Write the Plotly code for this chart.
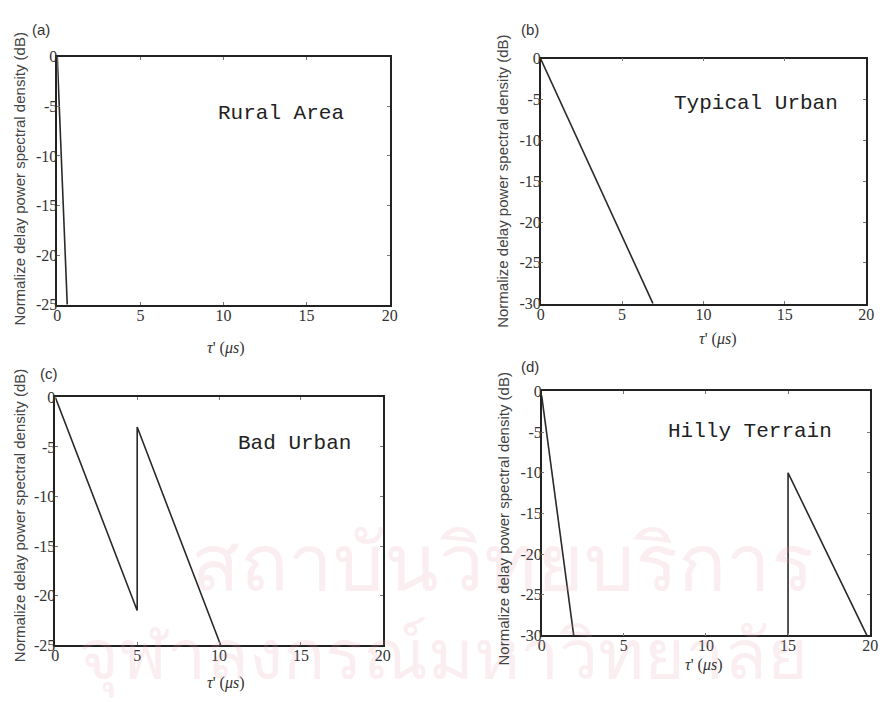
import plotly.graph_objects as go

# ---- data ----
rural_x = [0, 0.6]
rural_y = [0, -25]
tu_x = [0, 6.9]
tu_y = [0, -30]
bu_x = [0, 5, 5, 10.1]
bu_y = [0, -21.5, -3, -25]
ht_x = [0, 1.95, None, 15, 15, 19.8]
ht_y = [-0.5, -30, None, -30, -10, -30]

panel_labels = ["(a)", "(b)", "(c)", "(d)"]
panel_names = ["Rural Area", "Typical Urban", "Bad Urban", "Hilly Terrain"]
x_ticks = [0, 5, 10, 15, 20]
y_ticks_a = [0, -5, -10, -15, -20, -25]
y_ticks_b = [0, -5, -10, -15, -20, -25, -30]
y_title = "Normalize delay power spectral density (dB)"
x_title = "<i>τ</i>' (<i>μs</i>)"

W, H = 891, 702

# axes boxes in pixels: left, top, right, bottom
boxes = [(54, 50, 391, 304), (544, 52, 874, 303), (52, 399, 384, 653), (545, 393, 878, 643)]
y_ranges = [(-25, 0), (-30, 0), (-25, 0), (-30, 0)]
y_tickss = [y_ticks_a, y_ticks_b, y_ticks_a, y_ticks_b]

fig = go.Figure()
data = [(rural_x, rural_y), (tu_x, tu_y), (bu_x, bu_y), (ht_x, ht_y)]
for i, (xs, ys) in enumerate(data):
    sfx = "" if i == 0 else str(i + 1)
    fig.add_trace(go.Scatter(x=xs, y=ys, mode="lines", xaxis="x" + sfx, yaxis="y" + sfx,
                             line=dict(color="#2a2a2a", width=1.6), showlegend=False,
                             connectgaps=False))

layout = dict(width=W, height=H, margin=dict(l=0, r=0, t=0, b=0),
              paper_bgcolor="white", plot_bgcolor="rgba(0,0,0,0)", showlegend=False)
SERIF = "Liberation Serif"
tickfont = dict(family=SERIF, size=16, color="#333")
annotations = []


def ann(text, px, py, font, **kw):
    d = dict(text=text, x=px / W, y=1 - py / H, xref="paper", yref="paper", showarrow=False,
             xanchor="center", yanchor="middle", font=font)
    d.update(kw)
    return d


# faint watermark
wm_font = dict(family="Noto Sans", size=80, color="rgba(225,160,180,0.18)")
annotations.append(ann("สถาบันวิทยบริการ", 505, 565, wm_font))
annotations.append(ann("จุฬาลงกรณ์มหาวิทยาลัย", 445, 660, dict(wm_font, size=70)))

for i, (l, t, r, b) in enumerate(boxes):
    sfx = "" if i == 0 else str(i + 1)
    layout["xaxis" + sfx] = dict(domain=[l / W, r / W], range=[0, 20], anchor="y" + sfx,
                                 tickvals=x_ticks, ticktext=[str(v) for v in x_ticks],
                                 ticks="inside", ticklen=3, tickcolor="#777",
                                 showline=True, mirror="ticks", linecolor="#222", linewidth=1.5,
                                 showgrid=False, zeroline=False, tickfont=tickfont,
                                 ticklabelstandoff=-5)
    layout["yaxis" + sfx] = dict(domain=[1 - b / H, 1 - t / H], range=list(y_ranges[i]), anchor="x" + sfx,
                                 tickvals=y_tickss[i], ticktext=[str(v) for v in y_tickss[i]],
                                 ticks="inside", ticklen=3, tickcolor="#777",
                                 showline=True, mirror="ticks", linecolor="#222", linewidth=1.5,
                                 showgrid=False, zeroline=False, tickfont=tickfont,
                                 ticklabelstandoff=-5)

label_font = dict(family="Liberation Sans", size=15, color="#333")
for txt, (px, py) in zip(panel_labels, [(37, 22), (533, 22), (46, 375), (533, 367)]):
    annotations.append(ann(txt, px, py, label_font))

name_font = dict(family="Liberation Mono", size=21, color="#222")
for txt, (px, py) in zip(panel_names, [(281, 108), (762, 98), (294, 446), (756, 434)]):
    annotations.append(ann(txt, px, py, name_font))

ytitle_font = dict(family="Liberation Sans", size=15, color="#444")
for (px, py) in [(16, 175), (506, 178), (16, 520), (506, 524)]:
    annotations.append(ann(y_title, px, py, ytitle_font, textangle=-90))

xtitle_font = dict(family=SERIF, size=16, color="#333")
for (px, py) in [(225, 348), (724, 339), (225, 692), (710, 673)]:
    annotations.append(ann(x_title, px, py, xtitle_font))

layout["annotations"] = annotations
fig.update_layout(**layout)
fig.write_html("out.html")
